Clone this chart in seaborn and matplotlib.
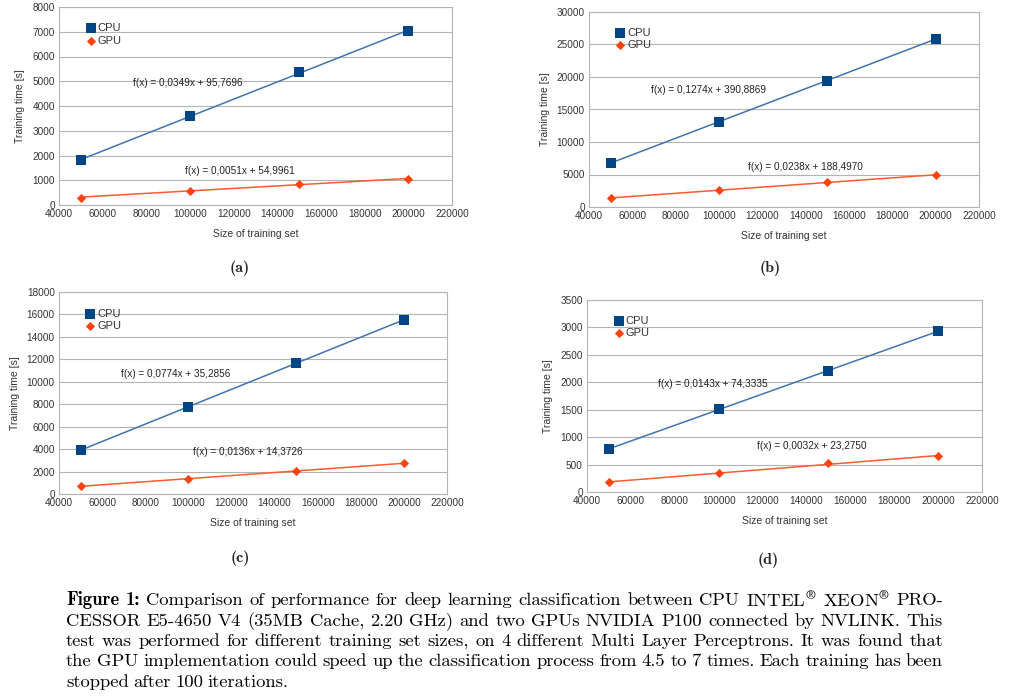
import matplotlib
matplotlib.use('Agg')
import matplotlib.pyplot as plt
import seaborn as sns
import pandas as pd
from matplotlib.ticker import FixedLocator, FuncFormatter

# training set sizes (x axis, same for all 4 panels)
sizes = [50000, 100000, 150000, 200000]

# training times [s]
cpu_a = [1810, 3595, 5365, 7030]
gpu_a = [297, 581, 865, 1040]
cpu_b = [6790, 13120, 19400, 25890]
gpu_b = [1390, 2570, 3810, 4940]
cpu_c = [3900, 7770, 11670, 15510]
gpu_c = [685, 1370, 2050, 2740]
cpu_d = [776, 1522, 2207, 2929]
gpu_d = [182, 340, 522, 655]

fit_cpu = ['f(x) = 0,0349x + 95,7696', 'f(x) = 0,1274x + 390,8869',
           'f(x) = 0,0774x + 35,2856', 'f(x) = 0,0143x + 74,3335']
fit_gpu = ['f(x) = 0,0051x + 54,9961', 'f(x) = 0,0238x + 188,4970',
           'f(x) = 0,0136x + 14,3726', 'f(x) = 0,0032x + 23,2750']
y_max = [8000, 30000, 18000, 3500]
y_step = [1000, 5000, 2000, 500]
panel_labels = ['(a)', '(b)', '(c)', '(d)']

sns.set_theme(style='white')
plt.rcParams['font.family'] = ['Liberation Sans', 'DejaVu Sans']
plt.rcParams['mathtext.fontset'] = 'cm'

W, H = 1009, 696
fig = plt.figure(figsize=(W / 100, H / 100), dpi=100)

# axes boxes in pixels: left, top, right, bottom
boxes = [(59, 7, 452, 205), (589, 12, 979, 207),
         (59, 292, 447, 494), (587, 300, 982, 492)]
# formula positions in axes fraction
cpu_txt = [(0.188, 0.616), (0.16, 0.60), (0.159, 0.594), (0.179, 0.5625)]
gpu_txt = [(0.32, 0.17), (0.407, 0.207), (0.346, 0.208), (0.43, 0.24)]
label_pos = [(240, 268), (770, 268), (240, 558), (768, 560)]

cpu_all = [cpu_a, cpu_b, cpu_c, cpu_d]
gpu_all = [gpu_a, gpu_b, gpu_c, gpu_d]

cpu_mark = '#004586'
cpu_line = '#3f74b0'
gpu_mark = '#ff420e'
gpu_line = '#ff5a30'
txt_col = '#333333'
grid_col = '#b3b3b3'

for i in range(4):
    l, t, r, b = boxes[i]
    ax = fig.add_axes([l / W, 1 - b / H, (r - l) / W, (b - t) / H])
    df = pd.DataFrame({'size': sizes, 'CPU': cpu_all[i], 'GPU': gpu_all[i]})

    sns.regplot(data=df, x='size', y='CPU', ci=None, scatter=False, ax=ax,
                color=cpu_line, line_kws={'lw': 1.1, 'zorder': 2})
    sns.regplot(data=df, x='size', y='GPU', ci=None, scatter=False, ax=ax,
                color=gpu_line, line_kws={'lw': 1.1, 'zorder': 2})
    sns.scatterplot(data=df, x='size', y='CPU', marker='s', s=45, color=cpu_mark,
                    edgecolor=cpu_mark, linewidth=0, ax=ax, label='CPU', zorder=3)
    sns.scatterplot(data=df, x='size', y='GPU', marker='D', s=22, color=gpu_mark,
                    edgecolor=gpu_mark, linewidth=0, ax=ax, label='GPU', zorder=3)

    ax.set_xlim(40000, 220000)
    ax.set_ylim(0, y_max[i])
    ax.xaxis.set_major_locator(FixedLocator(list(range(40000, 220001, 20000))))
    ax.yaxis.set_major_locator(FixedLocator(list(range(0, y_max[i] + 1, y_step[i]))))
    ax.xaxis.set_major_formatter(FuncFormatter(lambda v, p: '%d' % v))
    ax.yaxis.set_major_formatter(FuncFormatter(lambda v, p: '%d' % v))
    ax.tick_params(length=0, labelsize=7.2, colors=txt_col, pad=3)
    ax.grid(axis='y', color=grid_col, lw=0.8)
    ax.set_axisbelow(True)
    for s in ax.spines.values():
        s.set_color(grid_col)
        s.set_linewidth(0.8)

    ax.set_xlabel('Size of training set', fontsize=7.5, color=txt_col, labelpad=7)
    ax.set_ylabel('Training time [s]', fontsize=7.5, color=txt_col, labelpad=5)

    ax.text(cpu_txt[i][0], cpu_txt[i][1], fit_cpu[i], transform=ax.transAxes,
            fontsize=7.2, color='#222222', va='center', ha='left')
    ax.text(gpu_txt[i][0], gpu_txt[i][1], fit_gpu[i], transform=ax.transAxes,
            fontsize=7.2, color='#222222', va='center', ha='left')

    ax.legend(loc='upper left', bbox_to_anchor=(0.055, 0.94), frameon=False,
              fontsize=8, handletextpad=0.1, labelspacing=0.2,
              handlelength=1.0, borderaxespad=0, labelcolor=txt_col)

    fig.text(label_pos[i][0] / W, 1 - label_pos[i][1] / H, panel_labels[i],
             family='cmb10', fontsize=11.5, ha='center', va='center')

# figure caption, justified line by line
R = '$^{\\circledR}$'
caption_lines = [
    'Figure 1: Comparison of performance for deep learning classification between CPU INTEL' + R + ' XEON' + R + ' PRO-',
    'CESSOR E5-4650 V4 (35MB Cache, 2.20 GHz) and two GPUs NVIDIA P100 connected by NVLINK. This',
    'test was performed for different training set sizes, on 4 different Multi Layer Perceptrons. It was found that',
    'the GPU implementation could speed up the classification process from 4.5 to 7 times. Each training has been',
    'stopped after 100 iterations.',
]
line_y = [600, 621, 641, 661, 682]
x0, x1 = 66, 943

renderer = fig.canvas.get_renderer()
for k, line in enumerate(caption_lines):
    words = line.split(' ')
    texts = []
    for j, w in enumerate(words):
        bold = (k == 0 and j < 2)
        fam = ['cmb10', 'DejaVu Serif'] if bold else ['cmr10', 'DejaVu Serif']
        texts.append(fig.text(0, 1 - line_y[k] / H, w, family=fam, fontsize=13.4,
                              ha='left', va='center', color='black'))
    widths = [tx.get_window_extent(renderer).width for tx in texts]
    if k < len(caption_lines) - 1:
        gap = (x1 - x0 - sum(widths)) / (len(words) - 1)
    else:
        gap = 4.5
    xpos = x0
    for tx, wd in zip(texts, widths):
        tx.set_x(xpos / W)
        xpos += wd + gap

fig.savefig('out.png', dpi=100)
